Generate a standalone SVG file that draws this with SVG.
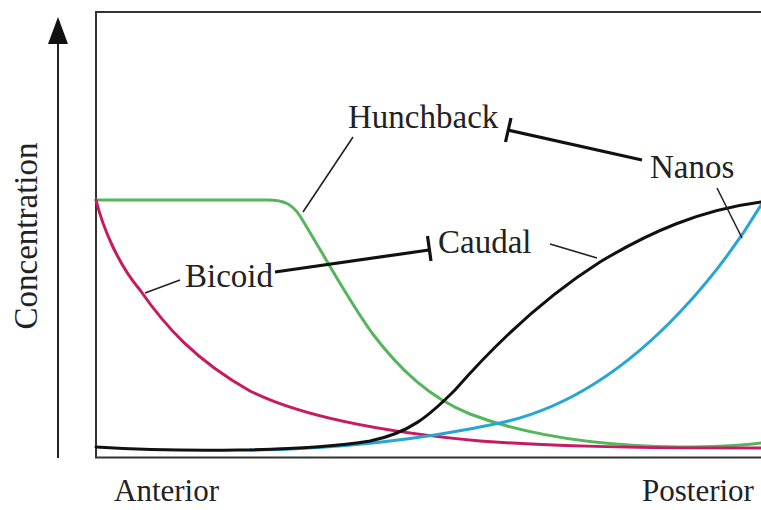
<svg xmlns="http://www.w3.org/2000/svg" width="761" height="510" viewBox="0 0 761 510">
  <style>
    .lbl { font-family: "Liberation Serif", "Times New Roman", serif; font-size: 33px; fill: #222; }
    .axlbl { font-family: "Liberation Serif", "Times New Roman", serif; font-size: 31px; fill: #222; }
    .curve { fill: none; stroke-width: 3; stroke-linecap: round; stroke-linejoin: round; }
    .leader { stroke: #222; stroke-width: 1.6; fill: none; }
    .inhib { stroke: #111; stroke-width: 3.2; fill: none; }
    .frame { stroke: #333; stroke-width: 2; fill: none; }
  </style>
  <rect width="761" height="510" fill="#fff"/>

  <g id="axes">
    <path class="frame" d="M761,12 H96 V457.5 H761"/>
    <line x1="58" y1="458" x2="58" y2="40" stroke="#222" stroke-width="2"/>
    <polygon points="58,17 48,44 68,44" fill="#111"/>
  </g>

  <g id="curves">
    <path id="hunchback-curve" class="curve" stroke="#55b55a" d="M96,200 L268,200 C284,200 292,204 300,216 C320,248 345,295 372,333 C400,370 430,398 470,414 C530,437 600,446 680,447 C720,447 745,445 761,443"/>
    <path id="bicoid-curve" class="curve" stroke="#c71a62" d="M96,200 C103,228 118,264 140,290 C165,326 195,360 250,391 C300,416 380,432 480,441 C580,448 680,448 761,448"/>
    <path id="nanos-curve" class="curve" stroke="#27a6d6" d="M250,450 C330,449 420,440 500,423 C570,408 630,365 680,312 C715,275 740,240 761,205"/>
    <path id="caudal-curve" class="curve" stroke="#111" d="M96,447 C180,452 300,452 370,441 C410,433 430,415 455,390 C490,350 540,300 600,262 C650,232 700,210 761,202"/>
  </g>

  <g id="connectors">
    <line class="leader" x1="353" y1="137" x2="303" y2="212"/>
    <line class="leader" x1="180" y1="280" x2="145" y2="293"/>
    <line class="leader" x1="550" y1="244" x2="597" y2="258"/>
    <line class="leader" x1="717" y1="188" x2="742" y2="238"/>
    <line class="inhib" x1="275" y1="272" x2="429" y2="250"/>
    <line class="inhib" x1="427.5" y1="236" x2="431" y2="261"/>
    <line class="inhib" x1="642" y1="160" x2="508" y2="130"/>
    <line class="inhib" x1="511" y1="118" x2="505.5" y2="142"/>
  </g>

  <g id="label-concentration">
    <text class="lbl" transform="translate(37,236) rotate(-90)" text-anchor="middle">Concentration</text>
  </g>
  <g id="node-hunchback"><text class="lbl" x="348" y="128">Hunchback</text></g>
  <g id="node-nanos"><text class="lbl" x="650" y="178">Nanos</text></g>
  <g id="node-caudal"><text class="lbl" x="438" y="253">Caudal</text></g>
  <g id="node-bicoid"><text class="lbl" x="185" y="287">Bicoid</text></g>
  <g id="label-anterior"><text class="axlbl" x="114" y="501">Anterior</text></g>
  <g id="label-posterior"><text class="axlbl" x="642" y="501">Posterior</text></g>
</svg>
